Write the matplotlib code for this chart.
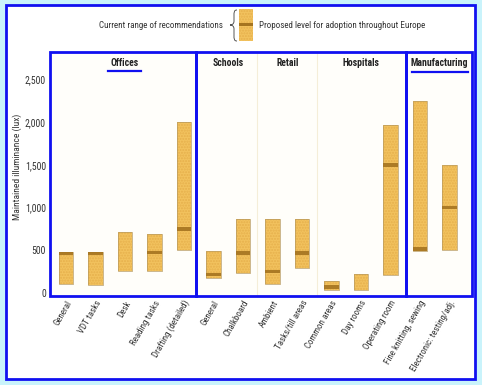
import matplotlib
matplotlib.use("Agg")
import matplotlib.pyplot as plt
from matplotlib.patches import Rectangle, PathPatch
from matplotlib.path import Path
import numpy as np

# ---------------- data ----------------
categories = ["General", "VDT tasks", "Desk", "Reading tasks", "Drafting (detailed)",
              "General", "Chalkboard",
              "Ambient", "Tasks/till areas",
              "Common areas", "Day rooms", "Operating room",
              "Fine knitting, sewing", "Electronic: testing/adj."]
range_low = [110, 90, 260, 260, 500, 170, 230, 100, 290, 40, 30, 210, 490, 500]
range_high = [485, 485, 715, 690, 2000, 490, 870, 870, 870, 140, 220, 1970, 2250, 1500]
proposed = [465, 465, None, 475, 750, 220, 470, 250, 470, 70, None, 1500, 515, 1000]
groups = ["Offices", "Schools", "Retail", "Hospitals", "Manufacturing"]
group_members = [[0, 1, 2, 3, 4], [5, 6], [7, 8], [9, 10, 11], [12, 13]]
yticks = [0, 500, 1000, 1500, 2000, 2500]
ytick_labels = ["0", "500", "1,000", "1,500", "2,000", "2,500"]
ylabel = "Maintained illuminance (lux)"
legend_left = "Current range of recommendations"
legend_right = "Proposed level for adoption throughout Europe"

# ---------------- style ----------------
W, H = 482, 385
BLUE = "#1010f0"
BG = "#c9f3fb"
GOLD = "#f2c25e"
GOLD_EDGE = "#b89a60"
BAND = "#a57420"
TXT = "#333333"
FONT = ["Roboto Condensed", "Archivo Narrow", "PT Sans Narrow", "DejaVu Sans"]
plt.rcParams["font.family"] = FONT

fig = plt.figure(figsize=(W / 100, H / 100), dpi=100, facecolor=BG)

def fx(x):
    return x / W

def fy(y):
    return 1 - y / H

# white outer panel with blue border
fig.patches.append(Rectangle((fx(6), fy(379)), fx(469), 374 / H, transform=fig.transFigure,
                             facecolor="white", edgecolor=BLUE, lw=2, zorder=-5))

ax = fig.add_axes([fx(50), fy(296), fx(422), (296 - 52) / H])
ax.set_zorder(2)
ax.set_facecolor("#fffefa")
for s in ax.spines.values():
    s.set_visible(False)

n = len(categories)
x = np.arange(n)
bw = 0.48
band_h = 40
for i in range(n):
    lo, hi = range_low[i], range_high[i]
    ax.add_patch(Rectangle((x[i] - bw / 2, lo), bw, hi - lo, facecolor=GOLD,
                           edgecolor="#e6b04c", hatch="......", lw=0, zorder=2))
    ax.add_patch(Rectangle((x[i] - bw / 2, lo), bw, hi - lo, facecolor="none",
                           edgecolor=GOLD_EDGE, lw=0.5, zorder=3))
    if proposed[i] is not None:
        c = proposed[i]
        b0 = max(lo, c - band_h / 2)
        b1 = min(hi, c + band_h / 2)
        ax.add_patch(Rectangle((x[i] - bw / 2, b0), bw, b1 - b0, facecolor=BAND,
                               edgecolor="none", alpha=0.9, zorder=4))

xl0, xl1 = -0.54, 13.76
ax.set_xlim(xl0, xl1)
ax.set_ylim(-35, 2822)
ax.set_yticks(yticks)
ax.set_yticklabels(ytick_labels, fontsize=7, color=TXT)
ax.tick_params(axis="y", length=0, pad=3)
ax.set_xticks(x)
ax.set_xticklabels([])
ax.tick_params(axis="x", length=0)
for i in range(n):
    ax.text(x[i] + 0.12, -95, categories[i], rotation=60, rotation_mode="anchor",
            ha="right", va="center", fontsize=6.5, color=TXT, clip_on=False)
ax.set_ylabel(ylabel, fontsize=6.8, color=TXT)
ax.yaxis.set_label_coords((22 - 50) / 422, (296 - 167) / 244)

# blue group boxes
bounds = [xl0, 4.41, 11.53, xl1]
for a, b in zip(bounds[:-1], bounds[1:]):
    ax.add_patch(Rectangle((a, -35), b - a, 2857, facecolor="none", edgecolor=BLUE,
                           lw=2, zorder=6, clip_on=False))
# faint dividers in middle box
for d in [6.47, 8.51]:
    ax.axvline(d, color="#f5eed8", lw=0.8, zorder=1)

# group titles
title_y = 2690
for g, mem in zip(groups, group_members):
    cx = (x[mem[0]] + x[mem[-1]]) / 2
    if g == "Manufacturing":
        cx = (11.53 + xl1) / 2
    ax.text(cx, title_y, g, ha="center", va="center", fontsize=7, fontweight="bold",
            color="#222222")
# blue underlines under Offices and Manufacturing
ax.plot([1.44, 2.53], [2600, 2600], color=BLUE, lw=1.6, zorder=6)
ax.plot([11.72, 13.62], [2588, 2588], color=BLUE, lw=1.6, zorder=6)

# ---------------- legend ----------------
fig.text(fx(223), fy(25), legend_left, ha="right", va="center", fontsize=6.5, color=TXT)
fig.text(fx(259), fy(25), legend_right, ha="left", va="center", fontsize=6.5, color=TXT)
fig.patches.append(Rectangle((fx(239), fy(41)), fx(14), 32 / H, transform=fig.transFigure,
                             facecolor=GOLD, edgecolor="#e6b04c", hatch="......", lw=0, zorder=3))
fig.patches.append(Rectangle((fx(239), fy(26)), fx(14), 3 / H, transform=fig.transFigure,
                             facecolor=BAND, edgecolor="none", zorder=4))
brace_px = [(237, 10), (234, 10), (234, 12), (234, 16), (234, 21), (234, 24), (232, 25), (230, 25),
            (232, 25), (234, 26), (234, 29), (234, 35), (234, 39), (234, 41), (237, 41)]
codes = [Path.MOVETO, Path.CURVE4, Path.CURVE4, Path.CURVE4, Path.LINETO,
         Path.CURVE4, Path.CURVE4, Path.CURVE4, Path.CURVE4, Path.CURVE4, Path.CURVE4,
         Path.LINETO, Path.CURVE4, Path.CURVE4, Path.CURVE4]
verts = [(fx(a), fy(b)) for a, b in brace_px]
fig.patches.append(PathPatch(Path(verts, codes), transform=fig.transFigure, facecolor="none",
                             edgecolor="#555555", lw=0.7, zorder=3))

fig.savefig("out.png", dpi=100, facecolor=BG)
